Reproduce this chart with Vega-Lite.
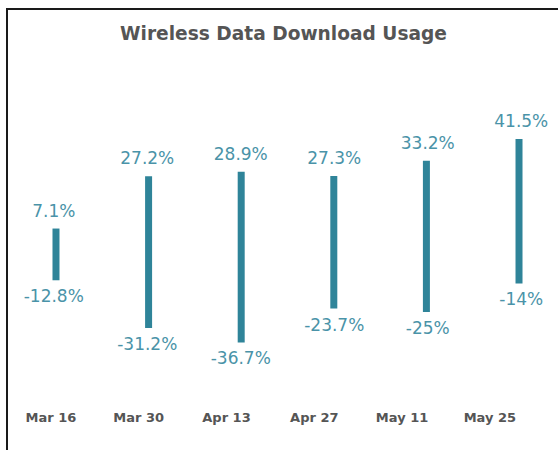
{
  "$schema": "https://vega.github.io/schema/vega-lite/v6.json",
  "autosize": "none",
  "padding": {"left": 7, "top": 9, "right": 0, "bottom": 0},
  "width": 561,
  "height": 445,
  "background": "white",
  "config": {
    "view": {"stroke": "#1a1a1a", "strokeWidth": 2},
    "locale": {"number": {"decimal": ".", "thousands": ",", "grouping": [3], "currency": ["$", ""], "minus": "-"}}
  },
  "title": {
    "text": "Wireless Data Download Usage",
    "font": "DejaVu Sans",
    "fontSize": 18.6,
    "fontWeight": "bold",
    "color": "#555555",
    "anchor": "middle",
    "frame": "group",
    "baseline": "alphabetic",
    "offset": -31,
    "dx": -4,
    "dy": 19
  },
  "data": {
    "values": [
      {"week": "Mar 16", "high": 0.071, "low": -0.128},
      {"week": "Mar 30", "high": 0.272, "low": -0.312},
      {"week": "Apr 13", "high": 0.289, "low": -0.367},
      {"week": "Apr 27", "high": 0.273, "low": -0.237},
      {"week": "May 11", "high": 0.332, "low": -0.25},
      {"week": "May 25", "high": 0.415, "low": -0.14}
    ]
  },
  "resolve": {"scale": {"x": "independent"}, "axis": {"x": "independent"}},
  "layer": [
    {
      "mark": {"type": "bar", "width": 7, "color": "#2f8499"},
      "encoding": {
        "x": {"field": "week", "type": "nominal", "sort": null, "scale": {"paddingInner": 0, "paddingOuter": 0.029}, "axis": null},
        "y": {"field": "low", "type": "quantitative", "scale": {"domain": [-0.7962, 0.9154], "nice": false, "zero": false}, "axis": null},
        "y2": {"field": "high"}
      }
    },
    {
      "mark": {"type": "text", "font": "DejaVu Sans", "fontSize": 17, "color": "#4a93a8", "baseline": "alphabetic", "dy": -12},
      "encoding": {
        "x": {"field": "week", "type": "nominal", "sort": null, "scale": {"paddingInner": 0, "paddingOuter": 0.029}, "axis": null},
        "y": {"field": "high", "type": "quantitative", "scale": {"domain": [-0.7962, 0.9154], "nice": false, "zero": false}, "axis": null},
        "text": {"field": "high", "type": "quantitative", "format": ".1~%"}
      }
    },
    {
      "mark": {"type": "text", "font": "DejaVu Sans", "fontSize": 17, "color": "#4a93a8", "baseline": "alphabetic", "dy": 22},
      "encoding": {
        "x": {"field": "week", "type": "nominal", "sort": null, "scale": {"paddingInner": 0, "paddingOuter": 0.029}, "axis": null},
        "y": {"field": "low", "type": "quantitative", "scale": {"domain": [-0.7962, 0.9154], "nice": false, "zero": false}, "axis": null},
        "text": {"field": "low", "type": "quantitative", "format": ".1~%"}
      }
    },
    {
      "mark": {"type": "bar", "opacity": 0},
      "encoding": {
        "x": {
          "field": "week", "type": "nominal", "sort": null,
          "scale": {"paddingInner": 0, "paddingOuter": 0.195, "align": 0},
          "axis": {
            "title": null, "orient": "bottom", "offset": -33,
            "domain": false, "ticks": false, "tickSize": 0, "labelPadding": 0,
            "labelAngle": 0, "labelBaseline": "alphabetic",
            "labelFont": "DejaVu Sans", "labelFontSize": 13, "labelFontWeight": "bold", "labelColor": "#555555"
          }
        }
      }
    }
  ]
}
